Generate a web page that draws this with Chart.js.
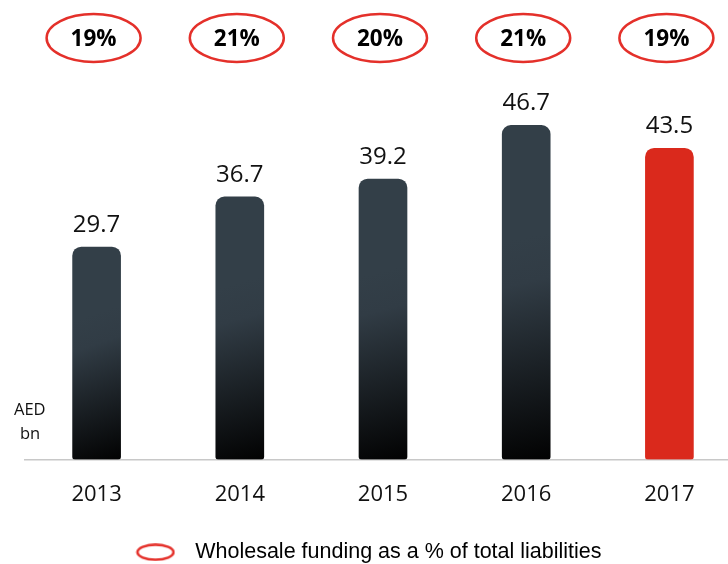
<!DOCTYPE html>
<html>
<head>
<meta charset="utf-8">
<script src="https://cdn.jsdelivr.net/npm/chart.js@4/dist/chart.umd.min.js"></script>
<style>
html,body{margin:0;padding:0;background:#fff;overflow:hidden;width:728px;height:564px;}
canvas{display:block;}
</style>
</head>
<body>
<canvas id="c" width="741" height="564"></canvas>
<script>
const years = ['2013', '2014', '2015', '2016', '2017'];
const fundingBn = [29.7, 36.7, 39.2, 46.7, 43.5];
const wholesaleShare = ['19%', '21%', '20%', '21%', '19%'];
const unitLabel = ['AED', 'bn'];
const legendText = 'Wholesale funding as a % of total liabilities';

const RED = '#da291c';

function ellipseIcon() {
  const c = document.createElement('canvas');
  c.width = 40; c.height = 18;
  const g = c.getContext('2d');
  g.strokeStyle = '#e4302a';
  g.lineWidth = 2.5;
  g.beginPath();
  g.ellipse(20, 9, 18, 7.5, 0, 0, Math.PI * 2);
  g.stroke();
  return c;
}

function barFill(ctx) {
  const chart = ctx.chart;
  const i = ctx.dataIndex;
  if (i === years.length - 1) return RED;
  const {chartArea, scales} = chart;
  if (!chartArea) return '#333f48';
  const x = scales.x.getPixelForValue(i);
  const top = scales.y.getPixelForValue(fundingBn[i]);
  const bot = scales.y.getPixelForValue(0);
  const h = bot - top;
  const g = chart.ctx.createLinearGradient(x - 24, top + h * 0.35, x + 24, bot);
  g.addColorStop(0, '#333f48');
  g.addColorStop(0.2, '#313c45');
  g.addColorStop(1, '#020202');
  return g;
}

const overlay = {
  id: 'overlay',
  afterLayout(chart) {
    const lg = chart.legend;
    if (lg) {
      lg.left -= 19;
      lg.right -= 19;
      lg.top += 9;
      lg.bottom += 9;
    }
  },
  afterDatasetsDraw(chart) {
    const {ctx, scales} = chart;
    ctx.save();
    ctx.textAlign = 'center';
    years.forEach((y, i) => {
      const x = scales.x.getPixelForValue(i);
      const top = scales.y.getPixelForValue(fundingBn[i]);
      ctx.fillStyle = '#111';
      ctx.textBaseline = 'alphabetic';
      ctx.font = '24px "Open Sans", sans-serif';
      ctx.fillText(fundingBn[i].toFixed(1), x, top - 15);
      ctx.strokeStyle = '#e4302a';
      ctx.lineWidth = 2.5;
      ctx.beginPath();
      ctx.ellipse(x - 3, 38, 47, 24, 0, 0, Math.PI * 2);
      ctx.stroke();
      ctx.fillStyle = '#000';
      ctx.font = 'bold 22.5px "Open Sans", sans-serif';
      ctx.fillText(wholesaleShare[i], x - 3, 46);
    });
    ctx.fillStyle = '#111';
    ctx.font = '16.5px "Open Sans", sans-serif';
    ctx.textAlign = 'left';
    ctx.textBaseline = 'alphabetic';
    ctx.fillText(unitLabel[0], 14, 415);
    ctx.fillText(unitLabel[1], 20, 439);
    ctx.restore();
  }
};

new Chart(document.getElementById('c'), {
  type: 'bar',
  data: {
    labels: years,
    datasets: [{
      label: legendText,
      data: fundingBn,
      backgroundColor: barFill,
      borderWidth: 0,
      borderSkipped: false,
      borderRadius: {topLeft: 9, topRight: 9, bottomLeft: 3, bottomRight: 3},
      barThickness: 48
    }]
  },
  options: {
    responsive: false,
    devicePixelRatio: 1,
    animation: false,
    layout: {padding: {left: 25, right: 0, top: 66, bottom: 0}},
    plugins: {
      tooltip: {enabled: false},
      legend: {
        position: 'bottom',
        labels: {
          usePointStyle: true,
          pointStyleWidth: 58,
          font: {family: '"Liberation Sans", Arial, sans-serif', size: 21.5},
          color: '#111',
          padding: 2,
          generateLabels: () => [{
            text: legendText,
            pointStyle: ellipseIcon(),
            fillStyle: 'transparent',
            strokeStyle: 'transparent',
            lineWidth: 0,
            datasetIndex: 0
          }]
        }
      }
    },
    scales: {
      x: {
        grid: {display: false, drawTicks: false},
        border: {display: true, color: '#c8c8c8', width: 1.5},
        ticks: {color: '#111', font: {family: '"Open Sans", sans-serif', size: 22}, padding: 22},
        afterFit(scale) { scale.height = 71; }
      },
      y: {
        display: false,
        min: 0,
        max: 55
      }
    }
  },
  plugins: [overlay]
});
</script>
</body>
</html>
